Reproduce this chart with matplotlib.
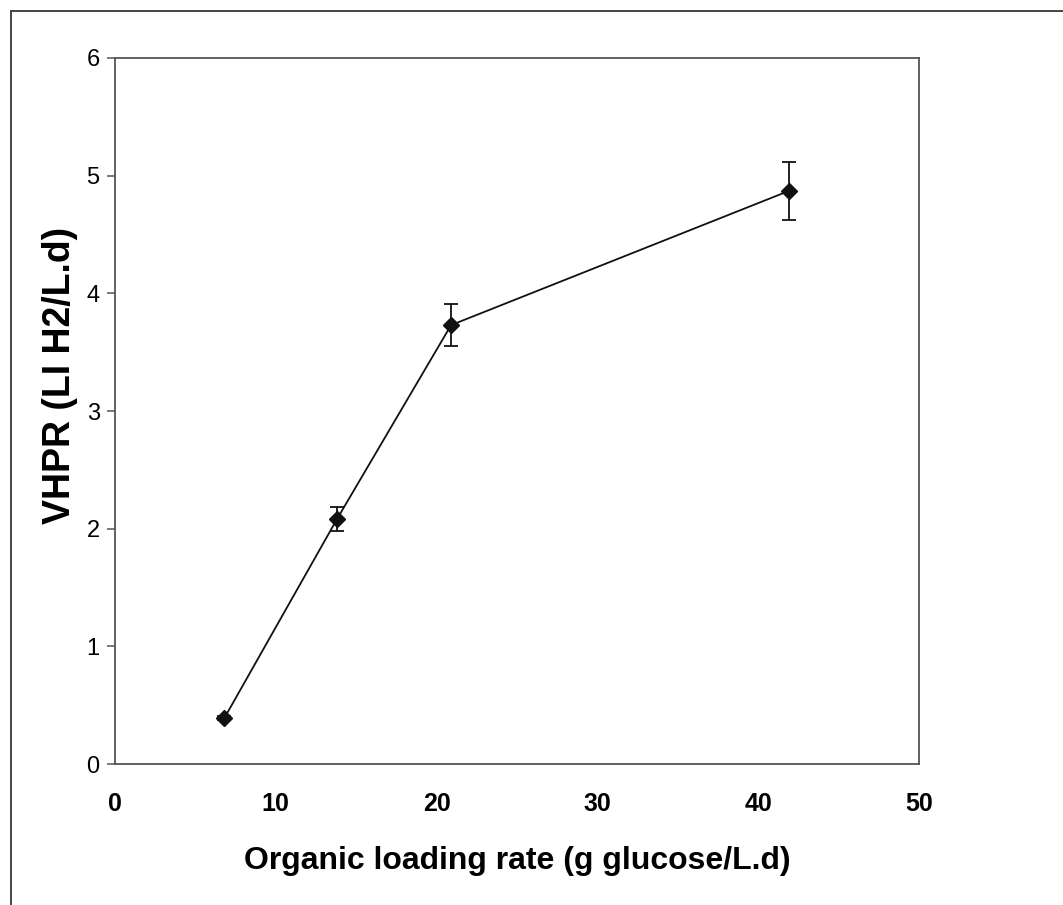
import matplotlib
matplotlib.use("Agg")
import matplotlib.pyplot as plt
from matplotlib.patches import Rectangle

# values
olr = [6.8, 13.8, 20.9, 41.9]          # g glucose/L.d
vhpr = [0.39, 2.08, 3.73, 4.87]        # L H2/L.d
vhpr_err = [0.02, 0.10, 0.18, 0.25]

x_ticks = [0, 10, 20, 30, 40, 50]
y_ticks = [0, 1, 2, 3, 4, 5, 6]

plt.rcParams['font.family'] = ['Liberation Sans', 'DejaVu Sans']

fig = plt.figure(figsize=(10.63, 9.05), dpi=100)
fig.patch.set_facecolor('white')

# outer frame of the scanned page (left and top edges visible)
fig.patches.append(Rectangle((11 / 1063, -0.1), 1.2, (905 - 11) / 905 + 0.1,
                             transform=fig.transFigure, fill=False,
                             edgecolor='#444444', linewidth=1.4))

ax = fig.add_axes([115 / 1063, (905 - 764) / 905, (919 - 115) / 1063, (764 - 58) / 905])

ax.errorbar(olr, vhpr, yerr=vhpr_err, color='#111111', linewidth=1.3,
            marker='D', markersize=8, capsize=5, capthick=1.3, elinewidth=1.3)

ax.set_xlim(0, 50)
ax.set_ylim(0, 6)
ax.set_xticks(x_ticks)
ax.set_yticks(y_ticks)
ax.set_xticklabels([str(t) for t in x_ticks], fontsize=18, fontweight='bold')
ax.set_yticklabels([str(t) for t in y_ticks], fontsize=17)

ax.tick_params(axis='y', direction='out', length=6, width=1.1, color='#555555', pad=5)
ax.tick_params(axis='x', length=0, pad=20)
ax.tick_params(top=False, right=False)

for sp in ax.spines.values():
    sp.set_color('#555555')
    sp.set_linewidth(1.3)

ax.set_xlabel('Organic loading rate (g glucose/L.d)', fontsize=23, fontweight='bold', labelpad=22)
ax.set_ylabel('VHPR (LI H2/L.d)', fontsize=27, fontweight='bold')
ax.yaxis.set_label_coords(-0.046, 0.55)

fig.savefig('out.png', dpi=100, facecolor='white')
